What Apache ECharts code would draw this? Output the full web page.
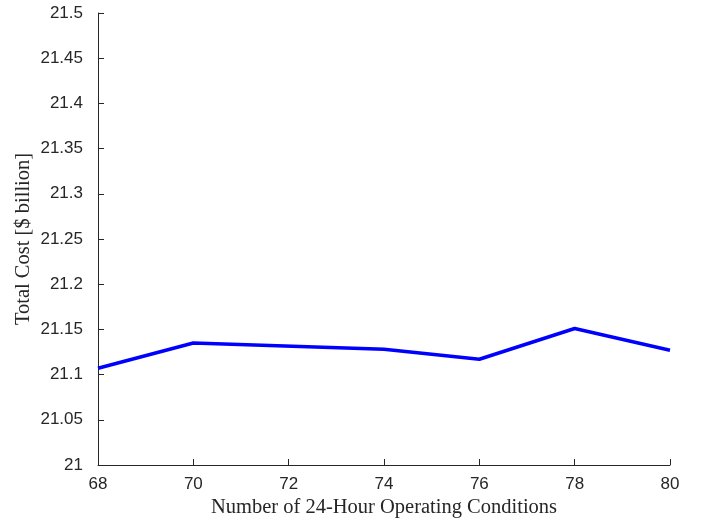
<!DOCTYPE html>
<html>
<head>
<meta charset="utf-8">
<title>Total Cost</title>
<style>html,body{margin:0;padding:0;background:#fff;}</style>
</head>
<body>
<div id="main" style="width:707px;height:521px;"></div>
<script src="https://cdn.jsdelivr.net/npm/echarts@6/dist/echarts.min.js"></script>
<script>
var conditions = [68, 70, 74, 76, 78, 80];
var totalCost = [21.107, 21.135, 21.128, 21.117, 21.151, 21.127];

var chart = echarts.init(document.getElementById('main'));

var points = conditions.map(function (c, i) { return [c, totalCost[i]]; });

chart.setOption({
    animation: false,
    grid: { left: 98, right: 37, top: 13, bottom: 56, outerBoundsMode: 'none' },
    xAxis: {
        type: 'value',
        min: 68, max: 80, interval: 2,
        name: 'Number of 24-Hour Operating Conditions',
        nameLocation: 'middle',
        nameGap: 32,
        nameMoveOverlap: false,
        nameTextStyle: { fontFamily: 'Liberation Serif', fontSize: 20.5, color: '#262626' },
        axisLine: { lineStyle: { color: '#262626', width: 1 } },
        axisTick: { inside: true, length: 6, lineStyle: { color: '#262626' } },
        axisLabel: { fontFamily: 'Liberation Sans', fontSize: 17, color: '#262626', margin: 11 },
        splitLine: { show: false }
    },
    yAxis: {
        type: 'value',
        min: 21, max: 21.5, interval: 0.05,
        name: 'Total Cost [$ billion]',
        nameLocation: 'middle',
        nameGap: 64,
        nameMoveOverlap: false,
        nameTextStyle: { fontFamily: 'Liberation Serif', fontSize: 20.5, color: '#262626' },
        axisLine: { show: true, lineStyle: { color: '#262626', width: 1 } },
        axisTick: { show: true, inside: true, length: 6, lineStyle: { color: '#262626' } },
        axisLabel: {
            fontFamily: 'Liberation Sans', fontSize: 17, color: '#262626', margin: 15,
            formatter: function (v) { return String(parseFloat(v.toFixed(2))); }
        },
        splitLine: { show: false }
    },
    series: [{
        type: 'line',
        data: points,
        showSymbol: false,
        lineStyle: { color: '#0000ff', width: 3.5 }
    }]
});
</script>
</body>
</html>
